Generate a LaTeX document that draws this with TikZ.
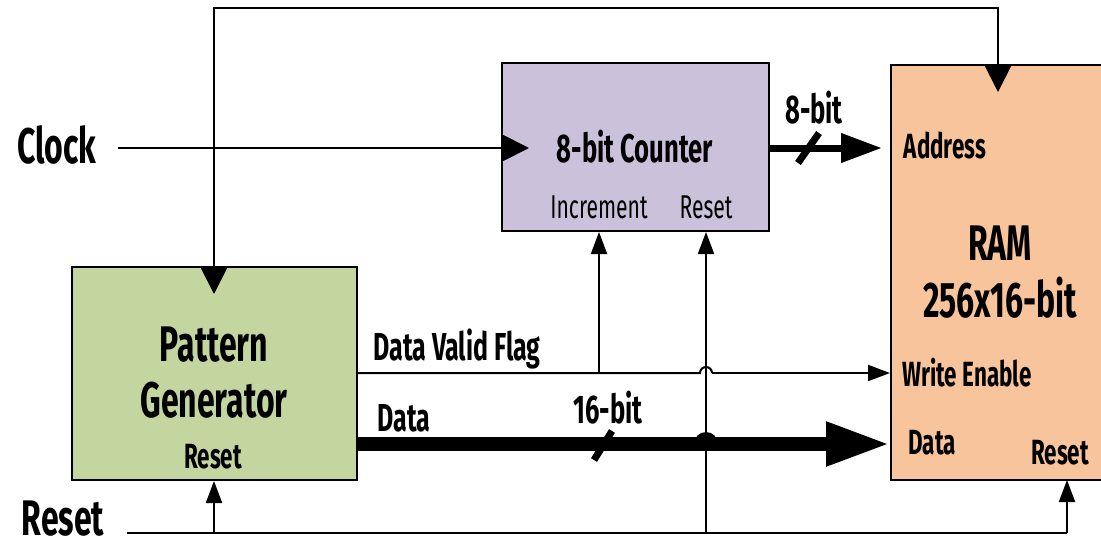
\documentclass[tikz,border=0pt]{standalone}
\usepackage{fontspec}
\setmainfont{Fira Sans}[FakeStretch=0.64]
\usetikzlibrary{arrows.meta,calc}

\definecolor{counterfill}{HTML}{CCC1DA}
\definecolor{ramfill}{HTML}{F8C49B}
\definecolor{genfill}{HTML}{C4D6A0}

\tikzset{
  block/.style={draw=black, line width=2pt, inner sep=0pt},
  big/.style={font=\bfseries\fontsize{50}{52}\selectfont},
  mid/.style={font=\bfseries\fontsize{40}{42}\selectfont},
  small/.style={font=\bfseries\fontsize{35}{37}\selectfont},
  wirelbl/.style={font=\bfseries\fontsize{39}{41}\selectfont},
  thin/.style={font=\fontsize{33}{35}\selectfont},
  wire/.style={line width=2pt},
  clk/.style={wire, -{Triangle[length=28pt,width=28pt]}},
  inp/.style={wire, -{Triangle[length=22pt,width=16pt]}},
  bus8/.style={line width=7pt, -{Triangle[length=41pt,width=28pt]}},
  bus16/.style={line width=14pt, -{Triangle[length=64pt,width=41pt]}},
  tick/.style={line width=7pt},
}

\begin{document}
\begin{tikzpicture}[x=1pt, y=-1pt]
  \clip (0,0) rectangle (1101,547);
  \fill[white] (0,0) rectangle (1101,547);

  % blocks
  \node[block, fill=counterfill, minimum width=267pt, minimum height=168pt] (cnt) at (635.5,147) {};
  \node[block, fill=ramfill, minimum width=214pt, minimum height=415pt] (ram) at (998,272.5) {};
  \node[block, fill=genfill, minimum width=285pt, minimum height=213pt] (gen) at (214.5,373.5) {};

  % block texts
  \node[mid] (cnttxt) at (635,147) {8-bit Counter};
  \node[thin] (inc) at (599,207) {Increment};
  \node[thin] (cntrst) at (706,207) {Reset};
  \node[small] (addr) at (945,146) {Address};
  \node[big] (ramtxt) at (1000,243) {RAM};
  \node[big] (ramsize) at (1000,298) {256x16-bit};
  \node[small] (we) at (967,373) {Write Enable};
  \node[small] (ramdata) at (932,443) {Data};
  \node[small] (ramrst) at (1060,453) {Reset};
  \node[big] (pat) at (214,345) {Pattern};
  \node[big] (gentxt) at (214,400) {Generator};
  \node[small] (genrst) at (213,457) {Reset};

  % outside labels
  \node[big] (clock) at (57,145) {Clock};
  \node[big, inner sep=0pt] (reset) at (63,519) {Reset};
  \node[wirelbl] (dvf) at (457,349) {Data Valid Flag};
  \node[wirelbl] (datalbl) at (404,418) {Data};
  \node[mid] (w16) at (608,408) {16-bit};
  \node[mid] (w8) at (814,108) {8-bit};

  % helper points
  \coordinate (clkstart) at (118,148);
  \coordinate (rststart) at (127,533);
  \coordinate (topleft) at (214,8);
  \coordinate (topright) at (998,8);
  \coordinate (rstjoin) at (706,533);

  % clock into the counter
  \draw[clk] (clkstart) -- ($(clkstart -| cnt.west)+(28,0)$);

  % feedback from the top into generator and RAM
  \draw[wire, {Triangle[length=28pt,width=28pt]}-{Triangle[length=28pt,width=28pt]}]
    ($(gen.north -| topleft)+(0,28)$) -- (topleft) -- (topright) -- ($(ram.north -| topright)+(0,28)$);

  % counter output to RAM address
  \draw[bus8] (cnt.east |- clkstart) -- ($(ram.west |- clkstart)+(-8,0)$);
  \draw[tick] (798,163) -- (819,133);

  % data valid flag with a hop over the reset branch
  \draw[wire] (gen.east |- we) -- (700,373) arc[start angle=180, end angle=360, radius=6] -- (712,373);
  \draw[inp] (712,373) -- (ram.west |- we);
  \draw[inp] (599,373) -- (inc |- cnt.south);

  % 16-bit data bus with its crossing bump
  \draw[bus16] (gen.east |- 0,444) -- (ram.west |- 0,444);
  \fill (694,444) arc[start angle=180, end angle=360, radius=12] -- cycle;
  \draw[tick] (594,460) -- (612,431);

  % reset distribution
  \draw[wire] (rststart) -- (1067,533);
  \draw[inp] (1067,533) -- (1067,480);
  \draw[inp] (214,533) -- (gen.south -| 214,0);
  \draw[inp] (rstjoin) -- (cntrst |- cnt.south);
\end{tikzpicture}
\end{document}
